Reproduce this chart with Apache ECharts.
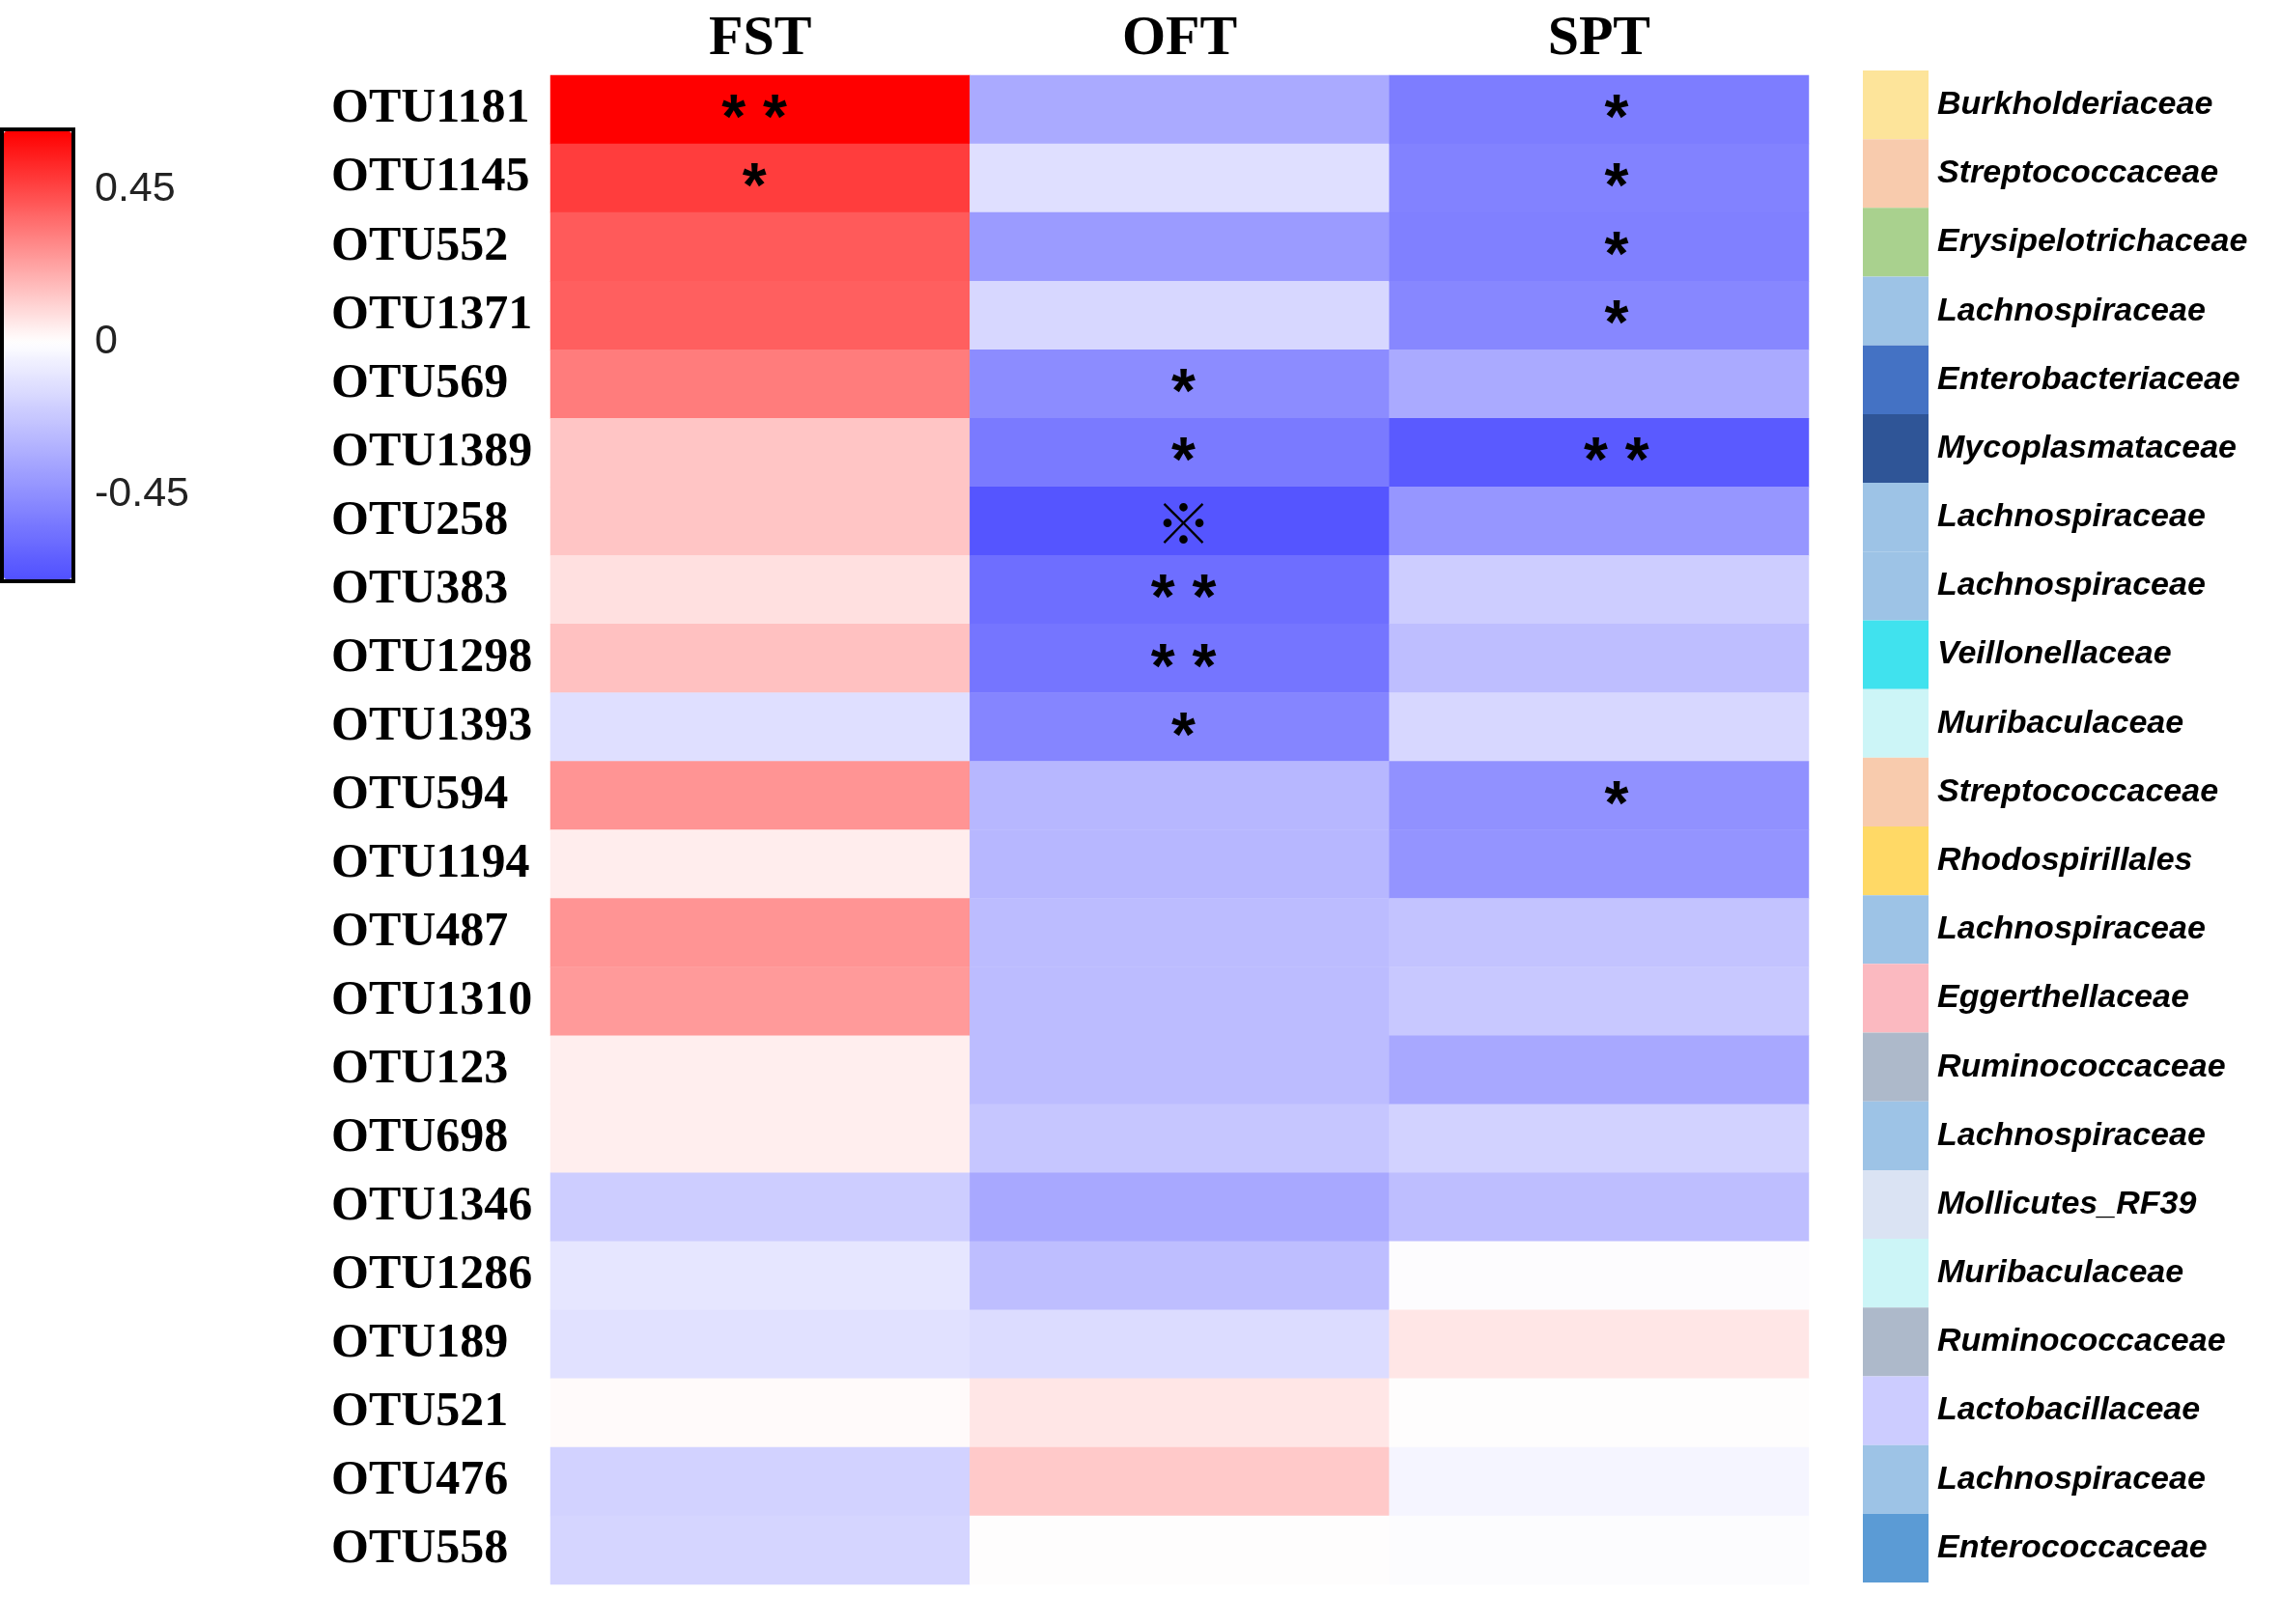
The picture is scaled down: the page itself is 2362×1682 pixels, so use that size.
<!DOCTYPE html>
<html>
<head>
<meta charset="UTF-8" />
<title>OTU correlation heatmap</title>
<script src="https://cdn.jsdelivr.net/npm/echarts@6/dist/echarts.min.js"></script>
<style>
  html, body { margin: 0; padding: 0; background: #fff; }
</style>
</head>
<body>
<div id="main" style="width: 2362px;height:1682px;"></div>
<script type="text/javascript">

    // 列（行为测试）
    var tests = ['FST', 'OFT', 'SPT'];

    // OTU 行
    var otus = ['OTU1181', 'OTU1145', 'OTU552', 'OTU1371', 'OTU569', 'OTU1389', 'OTU258', 'OTU383',
        'OTU1298', 'OTU1393', 'OTU594', 'OTU1194', 'OTU487', 'OTU1310', 'OTU123', 'OTU698',
        'OTU1346', 'OTU1286', 'OTU189', 'OTU521', 'OTU476', 'OTU558'];

    // 相关系数（按颜色估读）
    var fstValues = [0.62, 0.47, 0.40, 0.39, 0.32, 0.14, 0.14, 0.075, 0.15, -0.13, 0.26, 0.044,
        0.26, 0.245, 0.04, 0.04, -0.20, -0.10, -0.12, 0.012, -0.18, -0.17];
    var oftValues = [-0.34, -0.13, -0.40, -0.16, -0.46, -0.53, -0.68, -0.58, -0.55, -0.49, -0.29, -0.29,
        -0.27, -0.27, -0.27, -0.23, -0.35, -0.26, -0.14, 0.06, 0.13, 0];
    var sptValues = [-0.52, -0.50, -0.51, -0.48, -0.34, -0.66, -0.42, -0.20, -0.26, -0.16, -0.44, -0.43,
        -0.24, -0.22, -0.35, -0.18, -0.26, -0.005, 0.06, 0, -0.04, -0.01];

    // 显著性标记
    var fstStars = ['**', '*', '', '', '', '', '', '', '', '', '', '', '', '', '', '', '', '', '', '', '', ''];
    var oftStars = ['', '', '', '', '*', '*', '※', '**', '**', '*', '', '', '', '', '', '', '', '', '', '', '', ''];
    var sptStars = ['*', '*', '*', '*', '', '**', '', '', '', '', '*', '', '', '', '', '', '', '', '', '', '', ''];

    // 科名及颜色
    var families = ['Burkholderiaceae', 'Streptococcaceae', 'Erysipelotrichaceae', 'Lachnospiraceae',
        'Enterobacteriaceae', 'Mycoplasmataceae', 'Lachnospiraceae', 'Lachnospiraceae', 'Veillonellaceae',
        'Muribaculaceae', 'Streptococcaceae', 'Rhodospirillales', 'Lachnospiraceae', 'Eggerthellaceae',
        'Ruminococcaceae', 'Lachnospiraceae', 'Mollicutes_RF39', 'Muribaculaceae', 'Ruminococcaceae',
        'Lactobacillaceae', 'Lachnospiraceae', 'Enterococcaceae'];
    var familyColors = ['#fde49a', '#f8cbad', '#a9d18e', '#9dc3e6', '#4472c4', '#2f5597', '#9dc3e6',
        '#9dc3e6', '#40e2ee', '#ccf5f7', '#f8cbad', '#ffd966', '#9dc3e6', '#fbb9c0', '#adb9ca', '#9dc3e6',
        '#dae3f3', '#ccf5f7', '#adb9ca', '#ccccff', '#9dc3e6', '#5b9bd5'];

    // 色标刻度
    var barTicks = [-0.45, 0, 0.45];
    var vMin = -0.70;
    var vMax = 0.62;

    // 蓝-白-红 色带，0 处为白色
    function rampColor(v) {
        var r, g, b;
        if (v >= 0) {
            var t = Math.min(v / vMax, 1);
            r = 255; g = Math.round(255 * (1 - t)); b = g;
        } else {
            var t2 = Math.min(v / vMin, 1);
            r = Math.round(255 - 175 * t2); g = r; b = 255;
        }
        return 'rgb(' + r + ',' + g + ',' + b + ')';
    }
    var rampColors = [];
    for (var k = 0; k <= 60; k++) {
        rampColors.push(rampColor(vMin + (vMax - vMin) * k / 60));
    }

    var columns = [fstValues, oftValues, sptValues];
    var starCols = [fstStars, oftStars, sptStars];
    // 星号在各列里的水平偏移
    var starShift = [-6, 4, 18];
    var heatData = [];
    for (var c = 0; c < tests.length; c++) {
        for (var r = 0; r < otus.length; r++) {
            var s = starCols[c][r];
            var item = { value: [c, r, columns[c][r]] };
            if (s) {
                if (s === '※') {
                    item.label = { show: true, formatter: '※', fontFamily: 'Noto Sans CJK SC',
                        fontSize: 58, fontWeight: 'bold', offset: [starShift[c], 2] };
                } else {
                    item.label = { show: true, formatter: s.split('').join(' '), offset: [starShift[c], 12] };
                }
            }
            heatData.push(item);
        }
    }

    var swatchData = families.map(function (f, i) {
        return { value: 1, itemStyle: { color: familyColors[i] } };
    });

    var myChart = echarts.init(document.getElementById('main'));
    var option = {
        backgroundColor: '#fff',
        animation: false,
        grid: [
            { left: 570, right: 489, top: 78, bottom: 41 },
            { left: 2, top: 134, width: 74, height: 468, show: true, borderColor: '#000', borderWidth: 4,
              backgroundColor: 'transparent' },
            { left: 1929, width: 68, top: 73, bottom: 43 }
        ],
        xAxis: [
            {
                type: 'category', data: tests, position: 'top', gridIndex: 0,
                axisLine: { show: false }, axisTick: { show: false },
                axisLabel: { fontFamily: 'Liberation Serif', fontWeight: 'bold', fontSize: 58, color: '#000', margin: 8 }
            },
            { type: 'value', gridIndex: 1, show: false, min: 0, max: 1 },
            { type: 'value', gridIndex: 2, show: false, min: 0, max: 1 }
        ],
        yAxis: [
            {
                type: 'category', data: otus, inverse: true, gridIndex: 0,
                axisLine: { show: false }, axisTick: { show: false },
                axisLabel: { fontFamily: 'Liberation Serif', fontWeight: 'bold', fontSize: 50, color: '#000',
                    align: 'left', margin: 227 }
            },
            {
                type: 'value', gridIndex: 1, position: 'left', min: vMin - 0.006, max: vMax + 0.006,
                splitLine: { show: false }, axisLine: { show: false },
                axisTick: { show: true, inside: true, length: 9, lineStyle: { color: '#000', width: 4 }, customValues: barTicks },
                axisLabel: { show: false }
            },
            {
                type: 'value', gridIndex: 1, position: 'right', min: vMin - 0.006, max: vMax + 0.006,
                splitLine: { show: false }, axisLine: { show: false },
                axisTick: { show: true, inside: true, length: 9, lineStyle: { color: '#000', width: 4 }, customValues: barTicks },
                axisLabel: { show: true, customValues: barTicks, fontFamily: 'Liberation Sans', fontSize: 43,
                    color: '#222', margin: 22, formatter: function (v) { return String(v); } }
            },
            {
                type: 'category', data: families, inverse: true, gridIndex: 2, position: 'right',
                axisLine: { show: false }, axisTick: { show: false },
                axisLabel: { fontFamily: 'Liberation Sans', fontWeight: 'bold', fontStyle: 'italic', fontSize: 34,
                    color: '#000', margin: 9 }
            }
        ],
        visualMap: {
            type: 'continuous', seriesIndex: 0, min: vMin, max: vMax, calculable: false,
            orient: 'vertical', left: 4, top: 136, itemWidth: 70, itemHeight: 464, padding: 0,
            text: null, showLabel: false, inRange: { color: rampColors }
        },
        series: [
            {
                type: 'heatmap', xAxisIndex: 0, yAxisIndex: 0, data: heatData,
                itemStyle: { borderWidth: 0 },
                label: { show: false, fontFamily: 'Liberation Sans', fontWeight: 'bold', fontSize: 64, color: '#000' },
                emphasis: { disabled: true }
            },
            {
                type: 'bar', xAxisIndex: 2, yAxisIndex: 3, data: swatchData,
                barWidth: '100%', barCategoryGap: 0, silent: true
            },
            {
                type: 'line', xAxisIndex: 1, yAxisIndex: 1, data: [], silent: true
            }
        ]
    };
    myChart.setOption(option);
</script>
</body>
</html>
